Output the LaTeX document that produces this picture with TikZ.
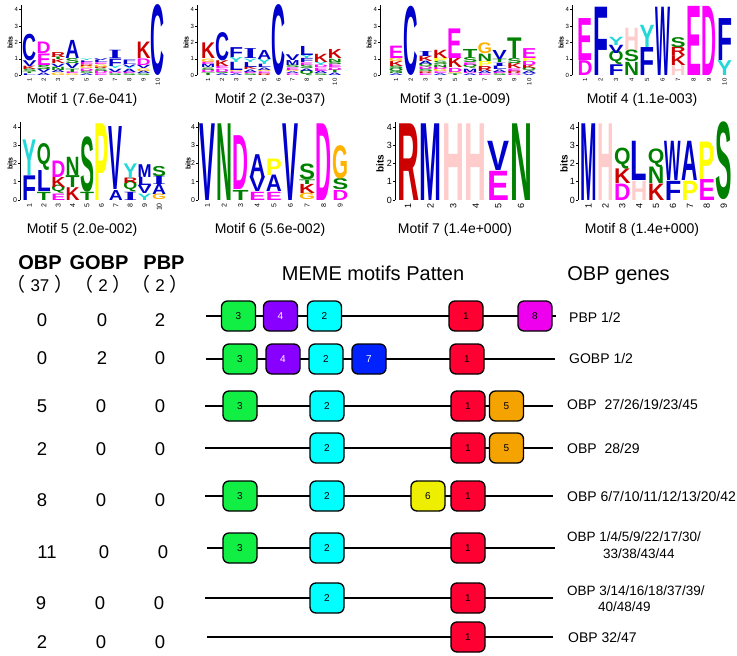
\documentclass[tikz,border=0pt]{standalone}
\usepackage{fontspec}
\setmainfont{Liberation Sans}
\newfontfamily\cjkfont{Noto Sans CJK SC}
\newfontfamily\serifb{Liberation Serif}
\usepackage{graphicx}
\newcommand\logofont{\bfseries}
% letter colours
\definecolor{lA}{HTML}{0000CC}\definecolor{lC}{HTML}{0000CC}\definecolor{lF}{HTML}{0000CC}
\definecolor{lI}{HTML}{0000CC}\definecolor{lL}{HTML}{0000CC}\definecolor{lM}{HTML}{0000CC}
\definecolor{lV}{HTML}{0000CC}\definecolor{lW}{HTML}{0000CC}
\definecolor{lN}{HTML}{008000}\definecolor{lQ}{HTML}{008000}\definecolor{lS}{HTML}{008000}
\definecolor{lT}{HTML}{008000}
\definecolor{lD}{HTML}{FF00FF}\definecolor{lE}{HTML}{FF00FF}
\definecolor{lK}{HTML}{CC0000}\definecolor{lR}{HTML}{CC0000}
\definecolor{lH}{HTML}{FFCCCC}\definecolor{lG}{HTML}{FFB300}
\definecolor{lP}{HTML}{FFFF00}\definecolor{lY}{HTML}{22D8D8}
% motif box colours
\definecolor{m1}{HTML}{FF0033}\definecolor{m2}{HTML}{00FFFF}\definecolor{m3}{HTML}{11EE44}
\definecolor{m4}{HTML}{8800FF}\definecolor{m5}{HTML}{F5A300}\definecolor{m6}{HTML}{EEEE00}
\definecolor{m7}{HTML}{0022FF}\definecolor{m8}{HTML}{EE00EE}
\newcommand\glyph[1]{\if#1I{\serifb\bfseries I}\else{\logofont#1}\fi}
\newcommand\stk[2]{%
  \pgfmathsetmacro\cx{\xz+(#1-1)*\dx}%
  \xdef\cum{0}%
  \foreach \ltr/\hgt in {#2}{%
    \pgfmathsetmacro\yb{\yz-\cum*\bs}%
    \pgfmathsetmacro\hh{max(\hgt*\bs,0.1)}%
    \node[lgn] at (\cx,\yb) {\resizebox{\cw pt}{\hh pt}{\textcolor{l\ltr}{\glyph{\ltr}}}};%
    \pgfmathsetmacro\nc{\cum+\hgt}%
    \xdef\cum{\nc}%
  }%
}
\newcommand\logoaxis[5]{%
  \draw[line width=0.7pt] (#1,\yz) -- (#1,{\yz-4.3*\bs});
  \foreach \t in {0,...,4}{
    \draw[line width=0.6pt] (#1,{\yz-\t*\bs}) -- ++(-2,0) node[left,inner sep=0.8pt,font=\fontsize{#2}{#2}\selectfont]{\t};}
  \node[rotate=90,font=\bfseries\fontsize{#3}{#3}\selectfont] at ({#1-#5},{\yz-2*\bs}) {bits};
  \foreach \n in {1,...,#4}{
    \node[rotate=90,anchor=east,inner sep=0pt,font=\fontsize{#2}{#2}\selectfont] at ({\xz+(\n-1)*\dx},{\yz+3}) {\n};}
}
\tikzset{
  lgn/.style={anchor=south,inner sep=0pt,outer sep=0pt},
  mlabel/.style={anchor=base,font=\fontsize{14}{16}\selectfont},
  mbox/.style={draw=black,line width=1.3pt,rounded corners=6pt,minimum width=34pt,minimum height=30pt,inner sep=0pt,font=\fontsize{10}{10}\selectfont},
  seq/.style={line width=1.5pt},
  hdr/.style={anchor=base,font=\bfseries\fontsize{20}{22}\selectfont},
  cnt/.style={anchor=base,font=\fontsize{17}{19}\selectfont},
  num/.style={anchor=base,font=\fontsize{18.5}{20}\selectfont},
  ttl/.style={anchor=base,font=\fontsize{20}{22}\selectfont},
  gene/.style={anchor=base west,inner sep=0pt,font=\fontsize{14}{16}\selectfont},
  genes/.style={anchor=base west,inner sep=0pt,font=\fontsize{13.5}{16}\selectfont}
}
\newcommand\fwp[1]{{\cjkfont\fontsize{19}{19}\selectfont （}\hspace{5pt}#1\hspace{5pt}{\cjkfont\fontsize{19}{19}\selectfont ）}}
\begin{document}
\begin{tikzpicture}[x=1pt,y=-1pt]
\useasboundingbox[fill=white] (0,0) rectangle (737,656);
% ---------------- Motif 1
\def\xz{29.5}\def\dx{14.25}\def\yz{75.3}\def\bs{16.45}\def\cw{14}
\stk{1}{L/0.1,T/0.1,S/0.15,K/0.2,V/0.35,C/1.6}
\stk{2}{A/0.15,V/0.2,S/0.25,E/0.7,D/0.7}
\stk{3}{G/0.15,A/0.15,N/0.2,V/0.2,K/0.25,T/0.15,R/0.3}
\stk{4}{G/0.1,E/0.1,T/0.2,V/0.3,S/0.3,A/1.1}
\stk{5}{A/0.1,S/0.15,D/0.15,G/0.15,R/0.1,E/0.15,L/0.1,Y/0.1}
\stk{6}{E/0.1,D/0.15,S/0.15,R/0.1,G/0.15,E/0.1,L/0.15,V/0.1}
\stk{7}{S/0.1,D/0.1,V/0.2,Y/0.15,F/0.45,I/0.5}
\stk{8}{S/0.1,E/0.1,A/0.2,Y/0.1,V/0.15,L/0.15,F/0.15}
\stk{9}{S/0.1,A/0.15,G/0.15,V/0.2,D/0.4,K/1.0}
\stk{10}{C/4.25}
\logoaxis{21}{6}{7}{10}{11}
\node[mlabel] (lab1) at (82,103.3) {Motif 1 (7.6e-041)};
% ---------------- Motif 2
\def\xz{208}\def\dx{14.1}\def\cw{14}
\stk{1}{T/0.15,D/0.15,S/0.15,M/0.2,E/0.15,G/0.2,K/0.95}
\stk{2}{A/0.1,S/0.1,D/0.2,E/0.15,K/0.35,C/1.7}
\stk{3}{A/0.1,E/0.1,G/0.1,L/0.5,Y/0.3,F/0.6}
\stk{4}{S/0.1,E/0.1,A/0.15,K/0.15,L/0.3,Y/0.2,I/0.6}
\stk{5}{R/0.1,E/0.1,G/0.1,A/0.15,L/0.2,Y/0.3,A/0.55}
\stk{6}{C/4.25}
\stk{7}{D/0.1,A/0.1,G/0.1,E/0.15,S/0.15,M/0.3,V/0.35}
\stk{8}{Q/0.25,A/0.15,S/0.2,E/0.15,F/0.25,Y/0.2,L/0.55}
\stk{9}{S/0.1,A/0.15,E/0.2,D/0.15,Y/0.2,K/0.5}
\stk{10}{A/0.15,T/0.15,D/0.15,E/0.2,S/0.15,N/0.2,K/0.55}
\logoaxis{197}{6}{7}{10}{11}
\node[mlabel] (lab2) at (270,103.3) {Motif 2 (2.3e-037)};
% ---------------- Motif 3
\def\xz{396}\def\dx{14.8}\def\cw{14.5}
\stk{1}{A/0.1,N/0.1,Q/0.2,S/0.15,K/0.3,G/0.2,E/0.75}
\stk{2}{C/4.15}
\stk{3}{E/0.1,R/0.1,S/0.15,D/0.15,Q/0.15,A/0.2,K/0.3,I/0.3}
\stk{4}{A/0.1,E/0.1,G/0.15,D/0.15,N/0.15,S/0.2,P/0.2,K/0.5}
\stk{5}{T/0.1,G/0.1,D/0.25,K/0.6,E/1.8}
\stk{6}{A/0.1,D/0.1,M/0.2,Q/0.2,E/0.15,S/0.3,T/0.55}
\stk{7}{E/0.1,A/0.15,R/0.3,P/0.3,N/0.45,G/0.65}
\stk{8}{S/0.1,E/0.1,A/0.15,L/0.2,I/0.2,T/0.2,V/0.55}
\stk{9}{D/0.1,R/0.15,E/0.15,K/0.3,S/0.3,T/1.25}
\stk{10}{V/0.1,A/0.15,Q/0.15,K/0.2,D/0.25,P/0.2,E/0.6}
\logoaxis{380}{6}{7}{10}{11}
\node[mlabel] (lab3) at (455,103.3) {Motif 3 (1.1e-009)};
% ---------------- Motif 4
\def\xz{585}\def\dx{15.5}\def\cw{15}
\stk{1}{D/0.9,E/2.55}
\stk{2}{F/4.15}
\stk{3}{F/0.65,Q/0.65,V/0.5,Y/0.5}
\stk{4}{N/0.8,S/0.7,H/1.35}
\stk{5}{F/1.7,Y/1.35}
\stk{6}{W/4.15}
\stk{7}{H/0.6,K/0.6,R/0.5,S/0.6}
\stk{8}{E/4.2}
\stk{9}{D/4.2}
\stk{10}{Y/0.9,F/2.55}
\logoaxis{572}{6}{7}{10}{11}
\node[mlabel] (lab4) at (642,103.3) {Motif 4 (1.1e-003)};
% ---------------- Motif 5
\def\xz{29.5}\def\dx{14.4}\def\yz{200}\def\bs{18.25}\def\cw{14}
\stk{1}{F/1.35,Y/1.95}
\stk{2}{T/0.45,L/1.15,Q/1.15}
\stk{3}{E/0.35,Q/0.35,K/0.55,D/0.9}
\stk{4}{K/0.7,T/0.65,N/1.0}
\stk{5}{T/0.45,S/3.0}
\stk{6}{P/4.2}
\stk{7}{A/0.55,V/3.45}
\stk{8}{I/0.45,Q/0.45,R/0.3,Y/0.8}
\stk{9}{Y/0.35,V/0.45,L/0.45,M/0.7}
\stk{10}{G/0.3,A/0.55,I/0.45,S/0.55}
\logoaxis{20}{7}{7}{10}{10}
\node[mlabel] (lab5) at (82,233) {Motif 5 (2.0e-002)};
% ---------------- Motif 6
\def\xz{207.5}\def\dx{16.6}\def\cw{16}
\stk{1}{V/4.2}
\stk{2}{N/4.2}
\stk{3}{T/0.55,D/2.95}
\stk{4}{E/0.45,V/0.8,A/1.25}
\stk{5}{E/0.45,A/0.9,P/0.9}
\stk{6}{V/4.2}
\stk{7}{G/0.35,K/0.5,T/0.25,S/0.85}
\stk{8}{D/4.2}
\stk{9}{D/0.55,S/0.6,G/1.8}
\logoaxis{198}{7}{7}{9}{10}
\node[mlabel] (lab6) at (270,233) {Motif 6 (5.6e-002)};
% ---------------- Motif 7
\def\xz{408}\def\dx{22.6}\def\cw{22}
\stk{1}{R/4.2}
\stk{2}{M/4.2}
\stk{3}{H/4.2}
\stk{4}{H/4.2}
\stk{5}{E/1.6,V/1.6}
\stk{6}{N/4.2}
\logoaxis{395}{9}{10}{6}{15}
\node[mlabel] (lab7) at (455,233) {Motif 7 (1.4e+000)};
% ---------------- Motif 8
\def\xz{588.5}\def\dx{16.9}\def\cw{16.5}
\stk{1}{M/4.2}
\stk{2}{H/4.2}
\stk{3}{D/0.9,K/0.8,Q/0.9}
\stk{4}{H/1.05,L/2.15}
\stk{5}{K/0.9,N/0.9,Q/0.8}
\stk{6}{F/1.05,W/2.15}
\stk{7}{P/1.05,A/2.15}
\stk{8}{E/1.15,P/2.05}
\stk{9}{S/4.2}
\logoaxis{578}{9}{10}{9}{14}
\node[mlabel] (lab8) at (642,233) {Motif 8 (1.4e+000)};
% ---------------- headers
\node[hdr] (hobp) at (40,269) {OBP};
\node[hdr] (hgobp) at (99,269) {GOBP};
\node[hdr] (hpbp) at (164,269) {PBP};
\node[cnt] (cobp) at (40,291) {\fwp{37}};
\node[cnt] (cgobp) at (103,291) {\fwp{2}};
\node[cnt] (cpbp) at (160,291) {\fwp{2}};
\node[ttl] (tmeme) at (373,280) {MEME motifs Patten};
\node[ttl] (tgenes) at (618.5,280) {OBP genes};
% ---------------- counts
\foreach \r/\y/\a/\b/\c/\xa/\xb/\xc in {1/326.6/0/0/2/42/102/160, 2/364.6/0/2/0/42/102/160,
  3/412.6/5/0/0/42/101/160, 4/455.6/2/0/0/42/101/160, 5/506.6/8/0/0/42/101/160,
  6/558.6/11/0/0/47/104/163, 7/609.6/9/0/0/41/100/159, 8/648.6/2/0/0/42/101/160}{
  \node[num] (n\r a) at (\xa,\y) {\a};
  \node[num] (n\r b) at (\xb,\y) {\b};
  \node[num] (n\r c) at (\xc,\y) {\c};
}
% ---------------- sequence lines
\coordinate (r1s) at (206,316); \coordinate (r1e) at (556,316);
\coordinate (r2s) at (206,359); \coordinate (r2e) at (555,359);
\coordinate (r3s) at (205,406); \coordinate (r3e) at (553,406);
\coordinate (r4s) at (205,448); \coordinate (r4e) at (553,448);
\coordinate (r5s) at (205,496); \coordinate (r5e) at (553,496);
\coordinate (r6s) at (207,548); \coordinate (r6e) at (555,548);
\coordinate (r7s) at (205,598); \coordinate (r7e) at (553,598);
\coordinate (r8s) at (207,637); \coordinate (r8e) at (553,637);
\foreach \r in {1,...,8}{\draw[seq] (r\r s) -- (r\r e);}
% ---------------- motif boxes
\node[mbox,fill=m3] (r1b3) at (238.5,316) {3};
\node[mbox,fill=m4,text=white] (r1b4) at (280.5,316) {4};
\node[mbox,fill=m2] (r1b2) at (324.5,316) {2};
\node[mbox,fill=m1] (r1b1) at (466,316) {1};
\node[mbox,fill=m8] (r1b8) at (535,316) {8};
\node[mbox,fill=m3] (r2b3) at (240,359) {3};
\node[mbox,fill=m4,text=white] (r2b4) at (283,359) {4};
\node[mbox,fill=m2] (r2b2) at (326,359) {2};
\node[mbox,fill=m7,text=white] (r2b7) at (369,359) {7};
\node[mbox,fill=m1] (r2b1) at (467,359) {1};
\node[mbox,fill=m3] (r3b3) at (240,406) {3};
\node[mbox,fill=m2] (r3b2) at (327,406) {2};
\node[mbox,fill=m1] (r3b1) at (468,406) {1};
\node[mbox,fill=m5] (r3b5) at (506.5,406) {5};
\node[mbox,fill=m2] (r4b2) at (327,448) {2};
\node[mbox,fill=m1] (r4b1) at (468,448) {1};
\node[mbox,fill=m5] (r4b5) at (506.5,448) {5};
\node[mbox,fill=m3] (r5b3) at (240,496) {3};
\node[mbox,fill=m2] (r5b2) at (327,496) {2};
\node[mbox,fill=m6] (r5b6) at (428,496) {6};
\node[mbox,fill=m1] (r5b1) at (468,496) {1};
\node[mbox,fill=m3] (r6b3) at (240,548) {3};
\node[mbox,fill=m2] (r6b2) at (327,548) {2};
\node[mbox,fill=m1] (r6b1) at (468,548) {1};
\node[mbox,fill=m2] (r7b2) at (327,598) {2};
\node[mbox,fill=m1] (r7b1) at (468,598) {1};
\node[mbox,fill=m1] (r8b1) at (468,637) {1};
% ---------------- gene names
\node[gene] (g1) at (569,322) {PBP 1/2};
\node[gene] (g2) at (569,363) {GOBP 1/2};
\node[gene] (g3) at (567,409) {OBP~~27/26/19/23/45};
\node[gene] (g4) at (567,453) {OBP~~28/29};
\node[gene] (g5) at (567,501) {OBP 6/7/10/11/12/13/20/42};
\node[genes] (g6a) at (567,541) {OBP 1/4/5/9/22/17/30/};
\node[genes] (g6b) at (603,558) {33/38/43/44};
\node[genes] (g7a) at (567,595) {OBP 3/14/16/18/37/39/};
\node[genes] (g7b) at (598,611) {40/48/49};
\node[gene] (g8) at (568,642) {OBP 32/47};
\end{tikzpicture}
\end{document}
